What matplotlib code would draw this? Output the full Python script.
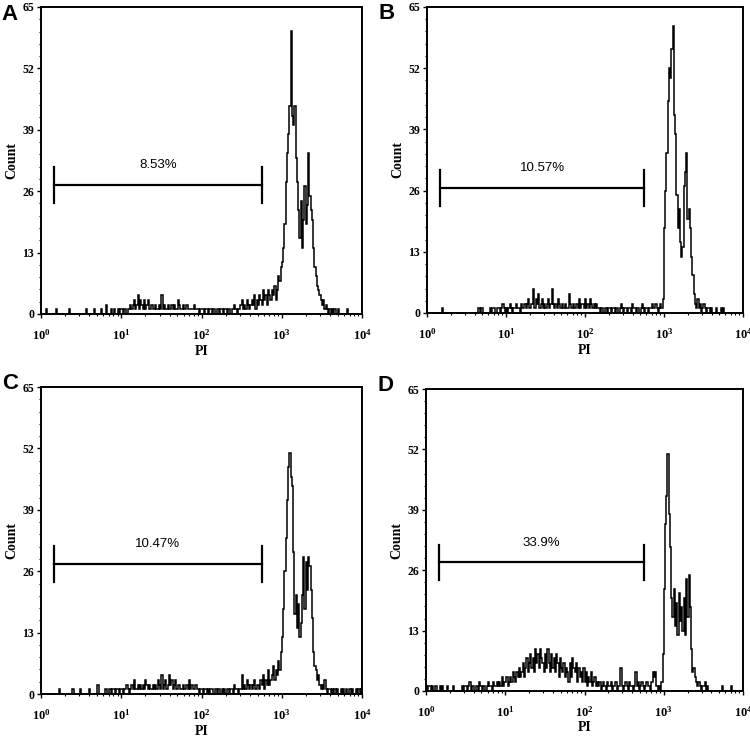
import numpy as np
import matplotlib
matplotlib.use("Agg")
import matplotlib.pyplot as plt
from matplotlib.ticker import AutoMinorLocator, LogLocator, NullFormatter

plt.rcParams['font.family'] = 'serif'
plt.rcParams['font.serif'] = ['Liberation Serif', 'DejaVu Serif']
plt.rcParams['font.weight'] = 'bold'

# PI histograms, 64 channels per decade from 10^0 to 10^4
edges = np.logspace(0, 4, 257)

counts_A = [
    0,0,0,0,1,0,0,0, 0,0,0,0,1,0,0,0, 0,0,0,0,0,0,1,0, 0,0,0,0,0,0,0,0,
    0,0,0,0,1,0,0,0, 0,0,1,0,0,0,0,0, 1,0,0,0,2,0,0,0, 1,0,1,0,0,1,0,1,
    1,0,1,1,0,1,1,2, 1,2,3,1,2,4,1,3, 2,1,3,1,2,3,1,1, 2,1,1,2,1,1,2,1,
    4,1,2,1,1,2,1,1, 2,1,2,1,1,3,2,1, 1,2,1,1,2,1,1,1, 1,1,2,1,1,1,0,1,
    1,1,0,1,1,0,1,1, 0,1,1,0,1,1,0,1, 1,0,1,1,0,1,1,0, 1,1,2,1,0,1,1,2,
    3,1,2,1,3,2,1,2, 3,2,4,1,3,2,4,3, 2,5,3,4,2,5,4,3, 5,4,6,3,5,8,7,10,
    11,14,19,28,34,38,44,60, 42,40,44,33,28,22,16,24, 14,20,27,19,23,34,25,22, 20,14,10,8,6,5,4,3,
    2,3,1,2,1,0,1,0, 1,0,1,0,0,1,0,0, 0,0,0,0,1,0,0,0, 0,0,0,0,0,0,0,0,
]

counts_B = [
    0,0,0,0,0,0,0,0, 0,0,0,0,1,0,0,0, 0,0,0,0,0,0,0,0, 0,0,0,0,0,0,0,0,
    0,0,0,0,0,0,0,0, 0,1,1,0,1,0,0,0, 0,0,0,1,0,1,1,0, 0,1,1,0,1,2,1,0,
    1,0,1,2,1,0,1,1, 2,1,1,0,2,1,1,2, 1,2,3,1,2,2,5,1, 3,2,4,1,2,3,1,2,
    1,2,3,1,2,5,2,1, 2,1,3,2,1,2,1,1, 2,1,1,4,2,1,2,1, 1,2,1,3,1,2,2,1,
    3,1,2,1,3,2,1,2, 1,2,1,1,0,1,1,0, 1,1,0,1,1,0,1,1, 0,1,1,0,1,2,1,0,
    1,1,0,1,1,0,2,1, 1,0,1,1,0,1,2,1, 0,1,1,0,1,1,2,1, 1,2,1,0,1,2,1,3,
    18,26,34,45,52,50,56,61, 42,38,25,18,22,15,12,14, 27,30,34,20,22,18,12,8, 4,2,1,3,1,2,0,1,
    2,1,0,1,1,0,1,0, 0,0,1,0,0,0,1,0, 1,0,0,0,0,0,0,0, 0,0,0,0,0,0,0,0,
]

counts_C = [
    0,0,0,0,0,0,0,0, 0,0,0,0,0,0,1,0, 0,0,0,0,0,0,0,0, 0,1,0,0,0,0,0,1,
    0,0,0,0,0,0,1,0, 0,0,0,0,0,2,0,0, 0,0,0,1,1,0,1,1, 0,1,1,0,1,1,0,1,
    1,0,1,1,2,1,0,1, 2,1,3,1,1,2,1,2, 1,2,1,3,2,1,2,1, 1,2,1,2,1,3,2,1,
    4,1,2,3,1,2,4,2, 3,1,2,3,1,2,2,1, 1,2,1,1,2,1,3,1, 2,1,1,2,1,1,0,1,
    1,0,1,1,0,1,0,1, 1,0,0,1,0,1,1,0, 1,0,1,0,1,1,0,1, 1,0,2,1,1,0,1,1,
    4,1,2,1,3,2,1,2, 1,2,3,1,2,2,1,3, 2,4,1,3,2,5,2,3, 4,6,3,5,4,7,5,9,
    12,18,26,33,41,48,51,46, 44,30,17,21,14,19,12,15, 21,29,18,28,22,29,27,22, 16,9,6,5,3,4,2,1,
    2,1,3,1,0,1,1,0, 1,0,1,0,1,0,0,1, 0,1,0,1,0,0,1,0, 1,0,0,1,0,1,0,1,
]

counts_D = [
    1,0,1,1,0,1,0,1, 1,0,0,1,0,1,0,0, 0,1,0,0,0,0,1,0, 0,0,0,0,0,1,0,1,
    1,0,1,2,0,1,1,0, 1,1,0,2,1,0,1,1, 0,1,2,1,1,0,2,1, 1,2,1,2,1,3,1,2,
    2,3,1,2,3,2,4,3, 2,4,3,5,3,4,6,3, 5,7,4,6,8,5,7,4, 9,6,8,5,9,7,6,4,
    8,5,9,6,4,8,5,7, 4,8,6,3,7,5,4,6, 3,5,4,2,6,3,7,5, 4,6,2,5,3,4,2,5,
    2,4,1,3,2,4,1,2, 3,1,2,1,2,0,1,2, 1,0,2,1,1,2,0,1, 1,2,0,1,1,5,1,0,
    1,2,1,0,2,1,1,0, 1,4,1,2,0,1,2,1, 0,1,2,1,1,0,2,4, 3,4,1,0,1,0,2,8,
    22,36,42,51,38,31,20,16, 22,14,19,12,21,15,18,13, 20,12,24,16,25,18,9,4, 5,3,2,1,2,1,0,1,
    1,2,0,1,0,0,0,0, 0,0,0,0,0,0,0,1, 0,0,0,0,0,0,1,0, 0,0,0,0,0,0,0,0,
]

panel_letters = ['A', 'B', 'C', 'D']
gate_labels = ['8.53%', '10.57%', '10.47%', '33.9%']
gate_lo, gate_hi = 1.45, 565
gate_y = [27.3, 26.6, 27.5, 27.7]
yticks = [0, 13, 26, 39, 52, 65]

fig = plt.figure(figsize=(7.5, 7.41), dpi=100)
rects = [
    [0.0547, 0.5763, 0.4280, 0.4143],
    [0.5693, 0.5776, 0.4213, 0.4130],
    [0.0547, 0.0634, 0.4280, 0.4143],
    [0.5680, 0.0675, 0.4227, 0.4075],
]
letter_pos = [(0.002, 0.995), (0.504, 0.996), (0.003, 0.497), (0.503, 0.494)]

all_counts = [counts_A, counts_B, counts_C, counts_D]
for i in range(4):
    ax = fig.add_axes(rects[i])
    ax.stairs(all_counts[i], edges, color='black', lw=1.1)
    ax.set_xscale('log')
    ax.set_xlim(1, 1e4)
    ax.set_ylim(0, 65)

    # gate marker
    ax.plot([gate_lo, gate_hi], [gate_y[i], gate_y[i]], color='black', lw=1.6)
    ax.plot([gate_lo, gate_lo], [gate_y[i] - 3.8, gate_y[i] + 3.8], color='black', lw=1.6)
    ax.plot([gate_hi, gate_hi], [gate_y[i] - 3.8, gate_y[i] + 3.8], color='black', lw=1.6)
    ax.text(np.sqrt(gate_lo * gate_hi), gate_y[i] + 4.2, gate_labels[i],
            family='Liberation Sans', fontweight='normal', fontsize=9.5,
            ha='center', va='center')

    ax.set_yticks(yticks)
    ax.yaxis.set_minor_locator(AutoMinorLocator(5))
    ax.xaxis.set_major_locator(LogLocator(base=10, numticks=10))
    ax.xaxis.set_minor_locator(LogLocator(base=10, subs=np.arange(2, 10), numticks=10))
    ax.xaxis.set_minor_formatter(NullFormatter())
    ax.tick_params(axis='both', which='major', direction='out', length=3, width=1)
    ax.tick_params(axis='both', which='minor', direction='out', length=1.5, width=0.8)
    ax.tick_params(axis='y', labelsize=8.5, pad=2)
    ax.tick_params(axis='x', labelsize=9, pad=7)
    for s in ax.spines.values():
        s.set_linewidth(1.4)

    ax.set_ylabel('Count', fontsize=10, fontweight='bold')
    ax.yaxis.set_label_coords(-0.07, 0.5)
    ax.set_xlabel('PI', fontsize=10, fontweight='bold')
    ax.xaxis.set_label_coords(0.5, -0.1)

    fig.text(letter_pos[i][0], letter_pos[i][1], panel_letters[i], family='Liberation Sans',
             fontweight='bold', fontsize=16, ha='left', va='top')

fig.savefig('out.png', dpi=100)
